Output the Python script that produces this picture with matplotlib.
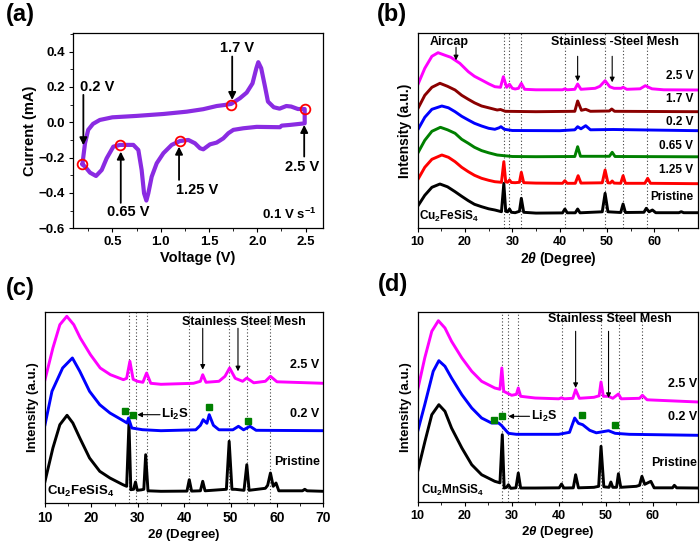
import matplotlib
matplotlib.use('Agg')
import matplotlib.pyplot as plt
import numpy as np
from matplotlib.ticker import MultipleLocator, NullLocator

plt.rcParams['font.family'] = ['Liberation Sans', 'DejaVu Sans']
plt.rcParams['font.weight'] = 'bold'
plt.rcParams['axes.labelweight'] = 'bold'
plt.rcParams['mathtext.fontset'] = 'custom'
plt.rcParams['mathtext.rm'] = 'Liberation Sans:bold'
plt.rcParams['mathtext.it'] = 'Liberation Sans:bold:italic'
plt.rcParams['mathtext.bf'] = 'Liberation Sans:bold'
plt.rcParams['axes.linewidth'] = 0.9
plt.rcParams['xtick.major.size'] = 3.2
plt.rcParams['ytick.major.size'] = 3.2
plt.rcParams['xtick.minor.size'] = 2
plt.rcParams['ytick.minor.size'] = 2
plt.rcParams['axes.unicode_minus'] = True

# ---- (a) cyclic voltammogram, 0.1 V/s ----
cv_anodic = [(0.19, -0.238), (0.217, -0.119), (0.25, -0.043), (0.30, -0.009), (0.37, 0.013),
             (0.5, 0.028), (0.75, 0.036), (1.03, 0.047), (1.27, 0.06), (1.44, 0.074),
             (1.58, 0.092), (1.665, 0.098), (1.73, 0.104), (1.82, 0.136), (1.89, 0.168),
             (1.95, 0.22), (1.99, 0.306), (2.01, 0.34), (2.04, 0.306), (2.08, 0.20),
             (2.11, 0.117), (2.17, 0.085), (2.23, 0.077), (2.30, 0.092), (2.35, 0.089),
             (2.42, 0.075), (2.49, 0.075)]
cv_cathodic = [(2.49, -0.006), (2.338, -0.015), (2.252, -0.019), (2.234, -0.028), (1.993, -0.026),
               (1.855, -0.034), (1.752, -0.043), (1.70, -0.062), (1.648, -0.091), (1.579, -0.115),
               (1.51, -0.125), (1.441, -0.153), (1.407, -0.147), (1.355, -0.119), (1.286, -0.10),
               (1.20, -0.106), (1.114, -0.128), (1.028, -0.175), (0.959, -0.232), (0.907, -0.308),
               (0.872, -0.402), (0.852, -0.443), (0.828, -0.402), (0.803, -0.27), (0.769, -0.157),
               (0.717, -0.128), (0.579, -0.128), (0.51, -0.138), (0.441, -0.204), (0.39, -0.27),
               (0.331, -0.304), (0.269, -0.285), (0.217, -0.251), (0.19, -0.238)]
cv_marks_x = [0.19, 0.58, 1.2, 1.73, 2.49]
cv_marks_y = [-0.238, -0.128, -0.106, 0.10, 0.075]

# ---- (b) ex-situ XRD, Cu2FeSiS4 at several potentials ----
b_pristine = [(10, 22), (11.5, 33), (13, 41), (14.7, 44.3), (16.3, 41.5), (17.9, 36.6), (19.3, 32),
              (20.7, 27.6), (22, 24), (23.5, 21.6), (25, 19.5), (26.3, 18.3), (27.7, 16.6), (28.2, 45),
              (28.6, 17), (29.0, 16.5), (29.4, 19.3), (29.8, 16), (30.6, 15.6), (31.5, 17), (31.9, 30),
              (32.4, 16), (35, 15.2), (40.6, 15.4), (41.1, 19.3), (41.6, 15.5), (43.3, 15.5), (43.8, 19.3),
              (44.3, 15.5), (49.0, 16.5), (49.6, 35), (50.2, 16.5), (52.9, 15.8), (53.4, 24.3), (53.9, 15.8),
              (57.8, 16), (58.3, 20), (58.9, 16.5), (59.6, 18.3), (60.3, 15.6), (65.2, 15.6), (65.7, 16.6),
              (66.2, 15.6), (69.3, 15.6)]
b_1p25 = [(10, 48.5), (11.5, 61), (13, 69), (15.1, 73.3), (16.5, 71), (17.9, 66.6), (19.3, 61),
          (20.7, 56.6), (22, 53), (23.5, 50), (25, 48), (26.3, 46.6), (27.7, 46), (28.2, 66.6),
          (28.6, 46.5), (29.0, 46), (29.4, 48.3), (29.8, 45.8), (30.6, 45.6), (31.5, 46), (31.9, 56),
          (32.4, 45.6), (35, 45.2), (40.6, 45), (41.1, 47.6), (41.6, 45), (43.3, 45), (43.9, 52.6),
          (44.5, 45.2), (49.0, 45.5), (49.6, 58.3), (50.2, 45.5), (50.7, 45.3), (51.1, 47.3),
          (51.5, 45.2), (52.9, 45), (53.4, 52.6), (53.9, 45), (58.0, 45), (58.6, 50), (59.2, 45),
          (69.3, 44.6)]
b_0p65 = [(10, 75), (11.5, 88), (13, 97), (14.8, 101), (16.3, 98.5), (17.9, 95), (19.3, 89),
          (20.7, 85), (22, 81), (23.5, 77.7), (25, 75.5), (26.8, 73.3), (30, 71.8), (35, 71.6),
          (43.2, 71.8), (43.8, 81.6), (44.4, 72), (50.5, 72), (51.1, 76), (51.7, 71.8), (69.3, 71.5)]
b_0p2 = [(10, 98.3), (11.5, 111), (13, 119), (15.1, 122.3), (16.5, 120.5), (17.9, 116.6), (19.3, 112),
         (20.7, 108.3), (22, 105), (23.5, 102.3), (25, 100), (26.3, 99), (27.2, 100.5), (27.6, 101.6),
         (28.3, 99), (30, 97.8), (40, 97.6), (43.2, 98.5), (43.8, 101.6), (44.5, 99.5), (45.5, 102.6),
         (46.5, 98.5), (51.3, 98.8), (69.3, 97.6)]
b_1p7 = [(10, 119.3), (11.5, 133), (13, 141), (14.7, 145), (16.3, 142), (17.9, 138.3), (19.3, 133),
         (20.7, 129), (22, 125.5), (23.5, 122.3), (25, 120.5), (26.8, 118.3), (27.5, 118.8),
         (28.5, 117), (35, 116.6), (43.2, 117), (43.8, 127.3), (44.6, 118), (45.5, 119), (46.5, 117),
         (50.5, 117.3), (51.0, 119.3), (51.6, 117), (69.3, 116.6)]
b_2p5 = [(10, 143.3), (11.5, 160), (13, 172), (14.3, 175.6), (15.8, 173), (17, 171), (18.9, 165),
         (20.7, 156.6), (22, 152), (23.5, 148.3), (25, 144.5), (26.3, 141.6), (27.5, 141), (28.1, 151.6),
         (28.8, 141), (29.4, 144), (30.0, 140), (30.6, 139.3), (31.3, 140), (31.9, 145), (32.6, 139),
         (35, 138.5), (40.6, 138.5), (41.1, 139.5), (41.6, 138.5), (43.2, 139), (43.8, 144.3),
         (44.5, 139), (47.5, 140), (48.5, 142), (49.6, 147.6), (50.6, 141.5), (51.5, 140), (53.0, 140),
         (53.4, 141), (54.2, 139), (57, 139.5), (58.1, 142.6), (59.5, 139.5), (62, 138.5), (69.3, 138.3)]
b_labels = ['Pristine', '1.25 V', '0.65 V', '0.2 V', '1.7 V', '2.5 V']
b_label_y = [31.6, 58.3, 82.3, 106.6, 129.6, 152.6]
b_colors = ['black', '#ff0000', '#008000', '#0000ff', '#8b0000', '#ff00ff']
b_refs = [28.2, 29.4, 31.9, 41.1, 49.6, 53.4, 58.5]

# ---- (c) Cu2FeSiS4 ----
c_pristine = [(10, 22), (11.7, 55.3), (13.2, 78.6), (14.75, 88), (16.0, 80.3), (17.5, 65.3), (19.6, 45.3),
              (21.8, 32), (24, 25.3), (26.8, 18.6), (27.6, 17), (28.1, 80.3), (28.5, 13.6), (29.1, 14),
              (29.5, 21.3), (29.9, 13), (30.8, 13.5), (31.3, 14), (31.7, 48.6), (32.2, 12.5), (35, 12),
              (40.6, 12.2), (41.1, 23.6), (41.6, 12.2), (43.5, 12.5), (44.0, 22), (44.5, 12.5), (47.5, 13.5),
              (49.1, 14), (49.7, 62), (50.3, 14), (51.0, 14), (52.9, 13), (53.5, 38.6), (54.0, 13),
              (57.5, 15), (58.0, 18), (58.6, 30.3), (59.2, 17), (59.8, 20.3), (60.4, 12.5), (65.5, 12.5),
              (66, 14), (66.5, 12.5), (70, 12)]
c_0p2 = [(10, 78.6), (11.5, 112), (13.8, 135.3), (15.9, 145.3), (17.5, 132), (19.6, 112), (21.8, 98.6),
         (24, 90.3), (26.5, 83.6), (27.7, 80.3), (28.0, 85.3), (28.7, 75.3), (31, 73.6), (35, 72.6),
         (42.5, 73.5), (43.5, 78), (44.1, 83.6), (44.9, 80), (45.4, 88.6), (46.3, 78), (47.5, 73.5),
         (50.5, 73.5), (51.7, 77), (52.8, 73.5), (54.2, 77), (55.5, 73), (70, 72.6)]
c_2p5 = [(10, 123.6), (11.7, 155.3), (13.2, 178.6), (14.7, 187), (16.2, 178.6), (17.6, 165.3),
         (19.8, 148.6), (21.9, 135.3), (24.1, 128.6), (26.9, 123.6), (27.6, 125), (28.3, 142), (29.0, 124),
         (29.9, 122), (31.1, 121), (31.9, 130.3), (32.8, 120), (35, 119), (42, 120), (43.5, 122),
         (44.0, 128.6), (44.7, 121), (47.5, 122), (48.8, 127), (49.8, 135.3), (51.0, 125), (52.6, 122),
         (53.5, 125.3), (55, 120.5), (57.5, 122), (58.6, 127), (60, 121.5), (70, 120)]
c_li2s_x = [27.2, 29.0, 45.4, 53.7]
c_li2s_y = [92, 88.6, 96, 82.6]
c_refs = [28.2, 29.6, 31.9, 41.1, 49.7, 53.5, 58.6]

# ---- (d) Cu2MnSiS4 ----
d_pristine = [(10, 31), (11.55, 61), (13.0, 87.6), (14.5, 97.6), (15.8, 91), (17.2, 74.3), (19.4, 54.3),
              (21.5, 37.6), (23.6, 27.6), (26.4, 21), (27.5, 19.5), (28.0, 67.6), (28.4, 14.3), (28.9, 15),
              (29.3, 17.6), (29.8, 14), (30.9, 14.5), (31.4, 29.3), (31.9, 14.3), (35, 14.3), (40.1, 14.5),
              (40.6, 18.3), (41.1, 14.3), (43.1, 14.5), (43.6, 27.6), (44.2, 14.5), (47.5, 15), (48.5, 16),
              (49.0, 56), (49.6, 15.5), (50.7, 15), (51.1, 20.3), (51.5, 15), (52.3, 15), (52.7, 28.6),
              (53.2, 15), (56.5, 16), (57.2, 17), (57.7, 26), (58.3, 18), (59.6, 21), (60.3, 14.5),
              (64.2, 14.5), (64.6, 17), (65.1, 14.5), (69.7, 14.3)]
d_0p2 = [(10, 71), (11.5, 97.6), (13.3, 131), (14.5, 141.6), (15.8, 136), (17.2, 124.3), (19.4, 107.6),
         (21.5, 94.3), (23.6, 84.3), (25.7, 79.3), (27.2, 79.3), (27.8, 77), (29.3, 69), (31, 68),
         (40, 68), (42.3, 70), (43.4, 84.3), (44.2, 79), (45.1, 77.6), (46.6, 72), (48, 69.5),
         (50.6, 71.6), (52, 69), (55, 68), (69.7, 67)]
d_2p5 = [(10, 112.6), (11.5, 144.3), (13.0, 171), (14.4, 181.6), (15.8, 174.3), (17.2, 161), (19.4, 144.3),
         (21.5, 131), (23.6, 121), (26.4, 114.3), (27.5, 113), (27.9, 134.3), (28.3, 111), (30.0, 107),
         (31.0, 108), (31.4, 114.3), (31.9, 106), (35, 104.3), (40, 103.5), (40.6, 104.5), (41.2, 103.5),
         (43.0, 104), (43.6, 112.6), (44.4, 104), (47.5, 105), (48.6, 106.5), (49.0, 120.3), (49.5, 106),
         (50.6, 106), (51.5, 104), (52.7, 108.3), (53.3, 103.5), (57.2, 104), (57.8, 107), (58.8, 102.5),
         (69.7, 100.3)]
d_li2s_x = [26.3, 28.0, 44.9, 51.9]
d_li2s_y = [82.6, 86, 87.6, 77.6]
d_refs = [28.0, 29.2, 31.4, 40.6, 49.0, 52.8, 57.7]

fig = plt.figure(figsize=(7, 5.45), dpi=100)
axa = fig.add_axes([0.1039, 0.5811, 0.3576, 0.3583])
axb = fig.add_axes([0.5967, 0.5811, 0.4009, 0.3589])
axc = fig.add_axes([0.0643, 0.0765, 0.3976, 0.3516])
axd = fig.add_axes([0.5967, 0.0783, 0.4009, 0.3498])

arrow_big = dict(arrowstyle='-|>', color='black', lw=1.3, mutation_scale=11, shrinkA=0, shrinkB=0)
arrow_small = dict(arrowstyle='-|>', color='black', lw=0.8, mutation_scale=7, shrinkA=0, shrinkB=0)

# (a)
cv = np.array(cv_anodic + cv_cathodic)
axa.plot(cv[:, 0], cv[:, 1], color='#8a2be2', lw=3, solid_capstyle='round', solid_joinstyle='round')
axa.plot(cv_marks_x, cv_marks_y, 'o', ms=7, mfc='none', mec='#ff0000', mew=1.3)
axa.set_xlim(0.09, 2.68)
axa.set_ylim(-0.6, 0.505)
axa.xaxis.set_major_locator(MultipleLocator(0.5))
axa.xaxis.set_minor_locator(MultipleLocator(0.25))
axa.yaxis.set_major_locator(MultipleLocator(0.2))
axa.yaxis.set_minor_locator(MultipleLocator(0.1))
axa.tick_params(labelsize=9.5, pad=2.5)
axa.set_xlabel('Voltage (V)', fontsize=10.5, labelpad=2)
axa.set_ylabel('Current (mA)', fontsize=10.5, labelpad=1)
cv_notes = [('0.2 V', 0.2, 0.155, -0.13, 0.342, 0.20),
            ('1.7 V', 1.74, 0.372, 0.126, 1.79, 0.419),
            ('0.65 V', 0.587, -0.456, -0.166, 0.665, -0.505),
            ('1.25 V', 1.19, -0.326, -0.138, 1.373, -0.383),
            ('2.5 V', 2.485, -0.194, -0.015, 2.459, -0.251)]
for txt, ax_x, y0, y1, tx, ty in cv_notes:
    axa.annotate('', xy=(ax_x, y1), xytext=(ax_x, y0), arrowprops=arrow_big)
    axa.text(tx, ty, txt, fontsize=10.5, ha='center', va='center')
axa.text(2.61, -0.524, r'0.1 V s$^{\mathrm{-1}}$', fontsize=9.5, ha='right', va='center')

def xrd_axes(ax, xmax, ytop, refs, tick_fs, lab_fs):
    for r in refs:
        ax.axvline(r, color='0.25', ls=(0, (1, 2)), lw=0.8, zorder=0)
    ax.set_xlim(10, xmax)
    ax.set_ylim(0, ytop)
    ax.xaxis.set_major_locator(MultipleLocator(10))
    ax.xaxis.set_minor_locator(MultipleLocator(5))
    ax.yaxis.set_major_locator(NullLocator())
    ax.tick_params(axis='x', labelsize=tick_fs, pad=2.5)
    ax.set_xlabel(r'2$\theta$ (Degree)', fontsize=lab_fs, labelpad=1)
    ax.set_ylabel('Intensity (a.u.)', fontsize=lab_fs, labelpad=4)

def draw(ax, pts, color):
    p = np.array(pts)
    ax.plot(p[:, 0], p[:, 1], color=color, lw=2.1, solid_joinstyle='round')

# (b)
for pts, col in zip([b_pristine, b_1p25, b_0p65, b_0p2, b_1p7, b_2p5], b_colors):
    draw(axb, pts, col)
for lab, ly in zip(b_labels, b_label_y):
    axb.text(68.2, ly, lab, fontsize=8.5, ha='right', va='center')
xrd_axes(axb, 69.3, 195.6, b_refs, 9, 10)
axb.text(16.7, 186, 'Aircap', fontsize=9, ha='center', va='center')
axb.annotate('', xy=(18.1, 168), xytext=(18.1, 181), arrowprops=arrow_small)
axb.text(51.7, 186, 'Stainless -Steel Mesh', fontsize=9, ha='center', va='center')
axb.annotate('', xy=(43.8, 147), xytext=(43.8, 172), arrowprops=arrow_small)
axb.annotate('', xy=(51.1, 146), xytext=(51.1, 172), arrowprops=arrow_small)
axb.text(10.3, 11.6, r'Cu$_{\mathrm{2}}$FeSiS$_{\mathrm{4}}$', fontsize=8.5, ha='left', va='center')

# (c)
for pts, col in zip([c_pristine, c_0p2, c_2p5], ['black', '#0000ff', '#ff00ff']):
    draw(axc, pts, col)
axc.plot(c_li2s_x, c_li2s_y, 's', color='#008000', ms=5)
xrd_axes(axc, 70, 191.6, c_refs, 10, 9.5)
axc.text(52.95, 181.6, 'Stainless Steel Mesh', fontsize=9, ha='center', va='center')
axc.annotate('', xy=(44.0, 133.6), xytext=(44.0, 175), arrowprops=arrow_small)
axc.annotate('', xy=(51.6, 132), xytext=(51.6, 175), arrowprops=arrow_small)
axc.annotate('', xy=(29.9, 88.6), xytext=(34.8, 88.6), arrowprops=arrow_small)
axc.text(35.1, 89, r'Li$_{\mathrm{2}}$S', fontsize=9.5, ha='left', va='center')
for lab, ly in zip(['2.5 V', '0.2 V', 'Pristine'], [138.3, 89, 41.6]):
    axc.text(69.2, ly, lab, fontsize=9, ha='right', va='center')
axc.text(10.5, 11.6, r'Cu$_{\mathrm{2}}$FeSiS$_{\mathrm{4}}$', fontsize=9.5, ha='left', va='center')

# (d)
for pts, col in zip([d_pristine, d_0p2, d_2p5], ['black', '#0000ff', '#ff00ff']):
    draw(axd, pts, col)
axd.plot(d_li2s_x, d_li2s_y, 's', color='#008000', ms=5)
xrd_axes(axd, 69.7, 190.6, d_refs, 9, 9.5)
axd.text(50.9, 183.3, 'Stainless Steel Mesh', fontsize=9, ha='center', va='center')
axd.annotate('', xy=(43.6, 114.3), xytext=(43.6, 171), arrowprops=arrow_small)
axd.annotate('', xy=(50.6, 104.3), xytext=(50.6, 171), arrowprops=arrow_small)
axd.annotate('', xy=(29.3, 86), xytext=(33.8, 86), arrowprops=arrow_small)
axd.text(34.1, 86, r'Li$_{\mathrm{2}}$S', fontsize=9, ha='left', va='center')
for lab, ly in zip(['2.5 V', '0.2 V', 'Pristine'], [118.3, 85, 39.6]):
    axd.text(69.4, ly, lab, fontsize=9, ha='right', va='center')
axd.text(10.6, 12.3, r'Cu$_{\mathrm{2}}$MnSiS$_{\mathrm{4}}$', fontsize=8.5, ha='left', va='center')

for lab, fx, fy in [('(a)', 20, 15), ('(b)', 391.7, 15), ('(c)', 20, 288.3), ('(d)', 392.7, 285)]:
    fig.text(fx / 700, 1 - fy / 545, lab, fontsize=17, ha='center', va='center')

fig.savefig('out.png', dpi=100)
